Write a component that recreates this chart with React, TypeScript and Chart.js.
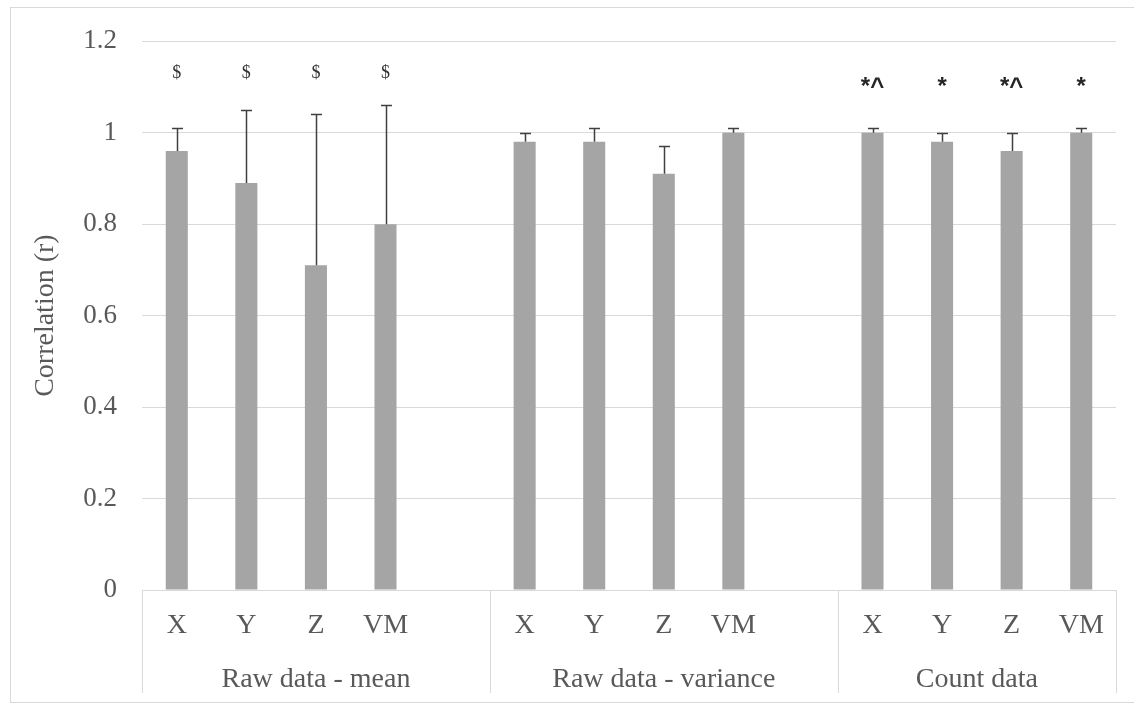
import React, { useEffect, useRef } from "react";
import { Chart, registerables } from "chart.js";

Chart.register(...registerables);

const categories = ["X", "Y", "Z", "VM", "", "X", "Y", "Z", "VM", "", "X", "Y", "Z", "VM"];
const values = [0.96, 0.89, 0.71, 0.8, null, 0.98, 0.98, 0.91, 1.0, null, 1.0, 0.98, 0.96, 1.0];
const errors = [0.05, 0.16, 0.33, 0.26, null, 0.02, 0.03, 0.06, 0.01, null, 0.01, 0.02, 0.04, 0.01];
const markers = ["$", "$", "$", "$", "", "", "", "", "", "", "*^", "*", "*^", "*"];
const groups = ["Raw data - mean", "Raw data - variance", "Count data"];
const groupSizes = [5, 5, 4];
const yTitle = "Correlation (r)";

const SERIF = "'Liberation Serif', 'Times New Roman', serif";
const TEXT = "#595959";
const LINE = "#d9d9d9";

export default function App() {
  const ref = useRef<HTMLCanvasElement>(null);

  useEffect(() => {
    document.body.style.margin = "0";
    const canvas = ref.current!;

    const overlay = {
      id: "overlay",
      afterDatasetsDraw(chart: any) {
        const ctx = chart.ctx;
        const y = chart.scales.y;
        const meta = chart.getDatasetMeta(0);
        ctx.save();
        // error bars (plus direction only)
        ctx.strokeStyle = "#404040";
        ctx.lineWidth = 1.5;
        values.forEach((v, i) => {
          const e = errors[i];
          if (v == null || e == null) return;
          const x = Math.round(meta.data[i].x) + 0.5;
          const y0 = y.getPixelForValue(v);
          const y1 = Math.round(y.getPixelForValue(v + e)) + 0.5;
          ctx.beginPath();
          ctx.moveTo(x, y0);
          ctx.lineTo(x, y1);
          ctx.moveTo(x - 5.5, y1);
          ctx.lineTo(x + 5.5, y1);
          ctx.stroke();
        });
        // significance markers
        markers.forEach((m, i) => {
          if (!m) return;
          const x = meta.data[i].x;
          ctx.textAlign = "center";
          ctx.textBaseline = "middle";
          if (m.startsWith("$")) {
            ctx.font = "18px 'Liberation Serif', serif";
            ctx.fillStyle = "#333333";
            ctx.fillText(m, x, y.getPixelForValue(1.13));
          } else {
            ctx.font = "bold 24px 'Liberation Sans', Arial, sans-serif";
            ctx.fillStyle = "#262626";
            ctx.fillText(m, x, y.getPixelForValue(1.1));
          }
        });
        ctx.restore();
      },
      afterDraw(chart: any) {
        const ctx = chart.ctx;
        const xs = chart.scales.x;
        const area = chart.chartArea;
        ctx.save();
        // outer chart border
        ctx.strokeStyle = LINE;
        ctx.lineWidth = 1;
        ctx.strokeRect(10.5, 7.5, 1140, 695);
        // y axis title
        ctx.fillStyle = TEXT;
        ctx.font = "28px " + SERIF;
        ctx.textAlign = "center";
        ctx.textBaseline = "middle";
        ctx.translate(46, (area.top + area.bottom) / 2);
        ctx.rotate(-Math.PI / 2);
        ctx.fillText(yTitle, 0, 0);
        ctx.setTransform(1, 0, 0, 1, 0, 0);
        // group dividers and labels
        const slot = (area.right - area.left) / categories.length;
        let start = 0;
        ctx.strokeStyle = LINE;
        ctx.beginPath();
        const edges: number[] = [area.left];
        groupSizes.forEach((n) => {
          start += n;
          edges.push(xs.getPixelForValue(start - 1) + slot / 2);
        });
        edges.forEach((ex) => {
          const px = Math.round(ex) + 0.5;
          ctx.moveTo(px, area.bottom);
          ctx.lineTo(px, 693);
        });
        ctx.stroke();
        ctx.font = "28px " + SERIF;
        ctx.fillStyle = TEXT;
        ctx.textAlign = "center";
        ctx.textBaseline = "alphabetic";
        groups.forEach((g, i) => {
          ctx.fillText(g, (edges[i] + edges[i + 1]) / 2, 687);
        });
        ctx.restore();
      },
    };

    const chart = new Chart(canvas, {
      type: "bar",
      data: {
        labels: categories,
        datasets: [
          {
            data: values as any,
            backgroundColor: "#a5a5a5",
            borderWidth: 0,
            barPercentage: 0.317,
            categoryPercentage: 1,
          },
        ],
      },
      options: {
        animation: false,
        responsive: false,
        devicePixelRatio: 1,
        layout: { padding: { top: 37, right: 18, left: 0, bottom: 0 } },
        plugins: { legend: { display: false }, tooltip: { enabled: false } },
        scales: {
          x: {
            grid: { display: false, drawTicks: false },
            border: { display: false },
            ticks: {
              font: { family: SERIF, size: 28 },
              color: TEXT,
              padding: 19,
              maxRotation: 0,
              autoSkip: false,
            },
            afterFit: (s: any) => {
              s.height = 114;
            },
          },
          y: {
            min: 0,
            max: 1.2,
            ticks: {
              stepSize: 0.2,
              font: { family: SERIF, size: 27 },
              color: TEXT,
              padding: 25,
              callback: (v: any) => String(Number(Number(v).toFixed(1))),
            },
            grid: { color: LINE, drawTicks: false, lineWidth: 1 },
            border: { display: false },
            afterFit: (s: any) => {
              s.width = 142;
            },
          },
        },
      },
      plugins: [overlay],
    });
    return () => chart.destroy();
  }, []);

  return (
    <div style={{ position: "relative", width: 1134, height: 704 }}>
      <canvas ref={ref} width={1134} height={704} style={{ display: "block" }} />
    </div>
  );
}
